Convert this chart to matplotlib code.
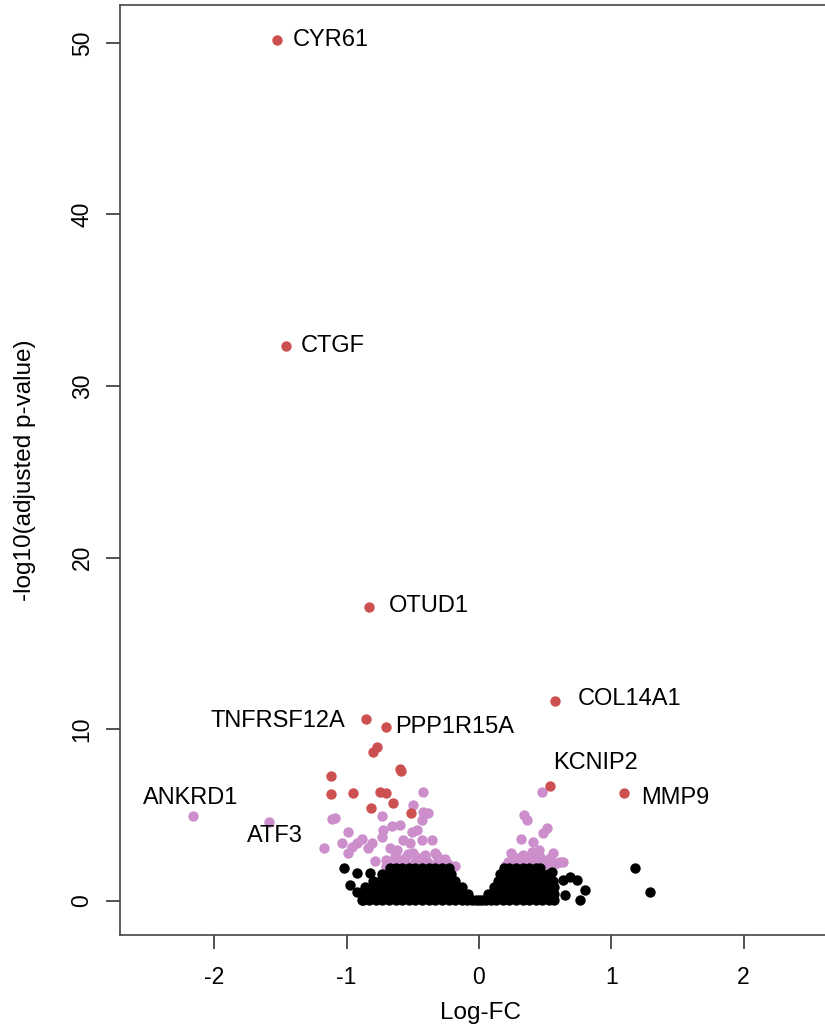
import numpy as np
import matplotlib
matplotlib.use("Agg")
import matplotlib.pyplot as plt

plt.rcParams['font.family'] = ['Liberation Sans', 'DejaVu Sans']
plt.rcParams['axes.unicode_minus'] = False

# significant genes (red)
red_x = [-1.527, -1.459, -0.831, 0.574, -0.854, -0.703, 0.537, 1.096,
         -0.772, -0.800, -0.597, -0.590, -1.119, -1.119, -0.952, -0.748,
         -0.703, -0.650, -0.816, -0.514]
red_y = [50.17, 32.34, 17.13, 11.66, 10.61, 10.14, 6.70, 6.29,
         8.97, 8.68, 7.69, 7.60, 7.28, 6.24, 6.29, 6.35,
         6.29, 5.71, 5.42, 5.13]

# adjusted p < 0.01 but small fold change (pink)
pink_x = [-2.162, -1.587, -1.111, -1.090, -0.990, -1.172, -1.036, -0.960, -0.884, -0.922,
          -0.990, -0.809, -0.839, -0.786, -0.733, -0.726, -0.658, -0.597, -0.733, -0.499,
          -0.423, -0.385, -0.431, -0.506, -0.469, -0.673, -0.620, -0.574, -0.522, -0.431,
          -0.355, -0.499, -0.408, -0.333, -0.658, -0.582, -0.484, -0.385, -0.310, -0.280,
          -0.423, -0.234, -0.180, -0.635, -0.560, -0.446, -0.700, -0.530, -0.360, -0.260,
          -0.600, -0.450, -0.320, -0.250, -0.700, -0.540, -0.470, -0.400, -0.300, -0.620,
          0.476, 0.340, 0.363, 0.514, 0.484, 0.317, 0.408, 0.242, 0.287, 0.333,
          0.401, 0.454, 0.219, 0.310, 0.386, 0.484, 0.559, 0.612, 0.461, 0.635,
          0.250, 0.350, 0.430, 0.520, 0.590, 0.200, 0.270, 0.370, 0.420, 0.540]
pink_y = [4.95, 4.60, 4.78, 4.84, 4.02, 3.09, 3.38, 3.15, 3.61, 3.38,
          2.80, 3.38, 3.09, 2.33, 4.95, 4.14, 4.37, 4.43, 3.73, 5.59,
          5.19, 5.13, 4.72, 4.02, 4.14, 3.09, 2.97, 3.55, 3.38, 3.55,
          3.55, 2.80, 2.68, 2.80, 2.27, 2.21, 2.27, 2.21, 2.39, 2.21,
          6.35, 2.16, 2.04, 2.62, 2.50, 2.50, 2.05, 2.05, 2.05, 2.45,
          2.10, 2.10, 2.60, 2.05, 2.40, 2.75, 2.45, 2.40, 2.15, 2.45,
          6.35, 5.01, 4.72, 4.25, 3.96, 3.61, 3.44, 2.80, 2.51, 2.68,
          2.86, 2.97, 2.27, 2.21, 2.27, 2.39, 2.80, 2.27, 2.56, 2.27,
          2.10, 2.10, 2.10, 2.15, 2.20, 2.05, 2.35, 2.45, 2.40, 2.50]

# non-significant genes (black), read row by row from the dense cloud
black_levels = [0.05, 0.42, 0.80, 1.17, 1.55, 1.92]
black_rows = [
    [-0.88, -0.83, -0.78, -0.73, -0.68, -0.63, -0.58, -0.53, -0.48, -0.43, -0.38, -0.33,
     -0.28, -0.23, -0.18, -0.13, -0.09, -0.05, -0.02, 0.00, 0.02, 0.05, 0.09, 0.13,
     0.18, 0.23, 0.28, 0.33, 0.38, 0.43, 0.48, 0.53, 0.57],
    [-0.86, -0.81, -0.76, -0.71, -0.66, -0.61, -0.56, -0.51, -0.46, -0.41, -0.36, -0.31,
     -0.26, -0.21, -0.16, -0.12, -0.08, 0.07, 0.10, 0.14, 0.18, 0.23, 0.28,
     0.33, 0.38, 0.43, 0.48, 0.53, 0.57],
    [-0.86, -0.81, -0.76, -0.71, -0.66, -0.61, -0.56, -0.51, -0.46, -0.41, -0.36, -0.31,
     -0.26, -0.21, -0.16, -0.13, 0.11, 0.14, 0.19, 0.24, 0.29, 0.34, 0.39, 0.44,
     0.49, 0.54, 0.57],
    [-0.80, -0.75, -0.71, -0.67, -0.62, -0.57, -0.52, -0.47, -0.42, -0.37, -0.32, -0.27,
     -0.22, -0.18, 0.14, 0.18, 0.23, 0.28, 0.33, 0.38, 0.43, 0.48, 0.53, 0.56],
    [-0.73, -0.69, -0.65, -0.60, -0.55, -0.50, -0.45, -0.40, -0.35, -0.30, -0.25, -0.21,
     0.16, 0.21, 0.26, 0.31, 0.36, 0.41, 0.46, 0.52],
    [-0.67, -0.63, -0.58, -0.53, -0.48, -0.43, -0.38, -0.33, -0.28, -0.23,
     0.19, 0.23, 0.28, 0.33, 0.38, 0.43, 0.46],
]
black_extra_x = [-1.020, -0.922, -0.824, -0.975, -0.884, -0.920,
                 1.179, 1.293, 0.635, 0.740, 0.800, 0.763, 0.650, 0.550, 0.690]
black_extra_y = [1.92, 1.63, 1.63, 0.93, 0.06, 0.50,
                 1.92, 0.52, 1.22, 1.22, 0.64, 0.06, 0.35, 1.69, 1.40]

# gene labels
gene_names = ['CYR61', 'CTGF', 'OTUD1', 'COL14A1', 'TNFRSF12A', 'PPP1R15A',
              'KCNIP2', 'MMP9', 'ANKRD1', 'ATF3']
gene_x = [-1.406, -1.345, -0.680, 0.748, -1.013, -0.635, 0.877, 1.224, -2.177, -1.542]
gene_y = [50.17, 32.34, 17.19, 11.77, 10.49, 10.14, 8.04, 6.00, 6.00, 3.79]
gene_ha = ['left', 'left', 'left', 'left', 'right', 'left', 'center', 'left', 'center', 'center']

red = '#CD5050'
pink = '#CC8FCC'
msize = 56

fig = plt.figure(figsize=(8.25, 10.31), dpi=100)
ax = fig.add_axes([120 / 825, 96 / 1031, 705 / 825, 930 / 1031])

bx = [x for row in black_rows for x in row] + black_extra_x
by = [lv for lv, row in zip(black_levels, black_rows) for _ in row] + black_extra_y
ax.scatter(pink_x, pink_y, s=msize, color=pink, linewidths=0, zorder=2)
ax.scatter(bx, by, s=msize, color='black', linewidths=0, zorder=3)
ax.scatter(red_x, red_y, s=msize, color=red, linewidths=0, zorder=4)

for name, x, y, ha in zip(gene_names, gene_x, gene_y, gene_ha):
    ax.text(x, y, name, ha=ha, va='center', fontsize=17, zorder=5)

ax.set_xlim(-2.713, 2.615)
ax.set_ylim(-1.98, 52.2)
ax.set_xticks([-2, -1, 0, 1, 2])
ax.set_yticks([0, 10, 20, 30, 40, 50])
ax.spines['right'].set_visible(False)
for s in ['left', 'bottom', 'top']:
    ax.spines[s].set_color('#444444')
    ax.spines[s].set_linewidth(1.2)
ax.tick_params(axis='both', direction='out', length=10, width=1.2,
               color='#333333', labelsize=16.5)
ax.tick_params(axis='x', pad=12)
ax.tick_params(axis='y', pad=9)
for lab in ax.get_yticklabels():
    lab.set_rotation(90)
    lab.set_va('center')

fig.text(480 / 825, 1 - 1013 / 1031, 'Log-FC', ha='center', va='center', fontsize=17.5)
fig.text(25 / 825, 1 - 470 / 1031, '-log10(adjusted p-value)', rotation=90,
         ha='center', va='center', fontsize=17.5)

fig.savefig('out.png', dpi=100)
